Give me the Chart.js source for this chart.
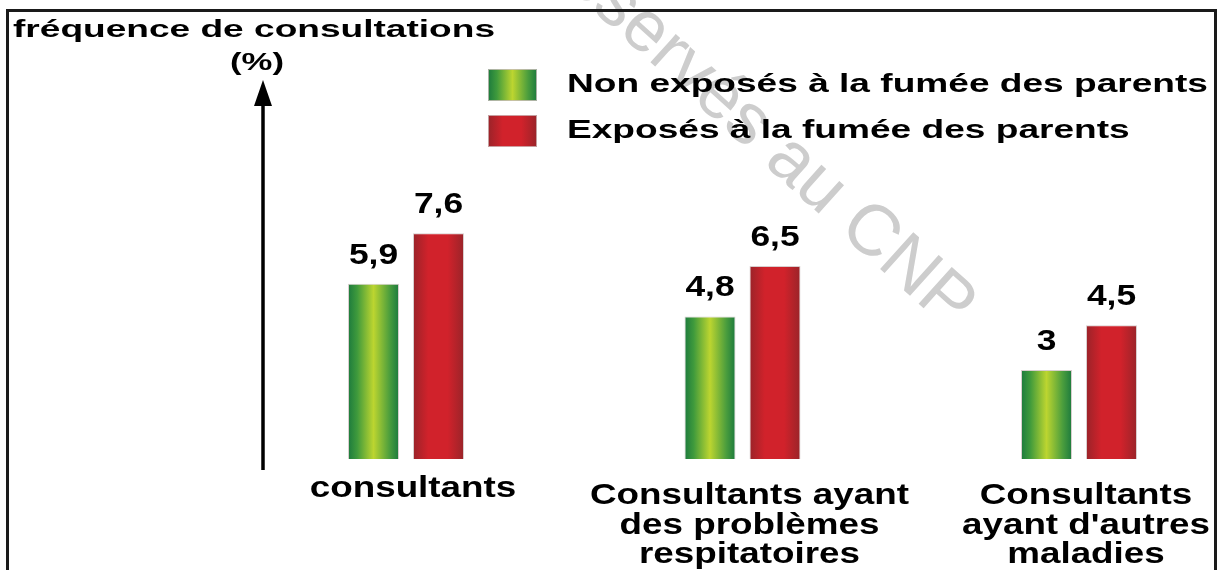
<!DOCTYPE html>
<html lang="fr">
<head>
<meta charset="utf-8">
<title>fréquence de consultations</title>
<script src="https://cdn.jsdelivr.net/npm/chart.js@4/dist/chart.umd.min.js"></script>
<style>
  html, body { margin: 0; padding: 0; background: #ffffff; }
  canvas { display: block; }
</style>
</head>
<body>
<canvas id="chart" width="1219" height="570"></canvas>
<script>
// Catégories (une ligne par élément du libellé)
const categories = [
  ['consultants'],
  ['Consultants ayant', 'des problèmes', 'respitatoires'],
  ['Consultants', "ayant d'autres", 'maladies']
];
const seriesNames = ['Non exposés à la fumée des parents', 'Exposés à la fumée des parents'];
const nonExposes = [5.9, 4.8, 3];
const exposes = [7.6, 6.5, 4.5];
const axisTitle = 'fréquence de consultations';
const axisUnit = '(%)';
const watermark = 'réservés au CNP';

const FONT = "'Liberation Sans', Arial, Helvetica, sans-serif";
const GREEN_STOPS = [[0, '#1c7a3d'], [0.18, '#3f9a3c'], [0.5, '#bcd530'], [0.82, '#4a9d3d'], [1, '#1c7a3d']];
const RED_STOPS = [[0, '#9a2329'], [0.3, '#d1222b'], [0.68, '#d1222b'], [1, '#992429']];

function fmt(v) { return String(v).replace('.', ','); }

function gradient(ctx, x0, x1, stops) {
  const g = ctx.createLinearGradient(x0, 0, x1, 0);
  stops.forEach(([o, c]) => g.addColorStop(o, c));
  return g;
}

function textWidth(ctx, text, font) {
  ctx.save();
  ctx.font = font;
  const w = ctx.measureText(text).width;
  ctx.restore();
  return w;
}

// Texte élargi horizontalement (facteur sx)
function wideText(ctx, text, x, y, font, sx, align) {
  ctx.save();
  ctx.font = font;
  ctx.textBaseline = 'alphabetic';
  ctx.textAlign = 'left';
  const w = ctx.measureText(text).width * sx;
  const left = align === 'center' ? x - w / 2 : (align === 'right' ? x - w : x);
  ctx.translate(left, y);
  ctx.scale(sx, 1);
  ctx.fillStyle = '#000000';
  ctx.fillText(text, 0, 0);
  ctx.restore();
}

const decor = {
  id: 'decor',
  beforeDraw(chart) {
    const ctx = chart.ctx;
    ctx.save();
    ctx.fillStyle = '#ffffff';
    ctx.fillRect(0, 0, chart.width, chart.height);
    // filigrane
    ctx.translate(950, 332);
    ctx.rotate(42 * Math.PI / 180);
    ctx.font = '72px ' + FONT;
    ctx.fillStyle = '#cdcdcd';
    ctx.textAlign = 'right';
    ctx.textBaseline = 'alphabetic';
    ctx.fillText(watermark, 0, 0);
    ctx.restore();
  },
  beforeDatasetsDraw(chart) {
    const ctx = chart.ctx;
    chart.data.datasets.forEach((ds, di) => {
      const stops = di === 0 ? GREEN_STOPS : RED_STOPS;
      chart.getDatasetMeta(di).data.forEach(bar => {
        const { x, width } = bar.getProps(['x', 'width'], true);
        bar.options.backgroundColor = gradient(ctx, x - width / 2, x + width / 2, stops);
      });
    });
  },
  afterDatasetsDraw(chart) {
    const ctx = chart.ctx;
    const valueFont = 'bold 29px ' + FONT;
    chart.data.datasets.forEach((ds, di) => {
      chart.getDatasetMeta(di).data.forEach((bar, i) => {
        const { x, y } = bar.getProps(['x', 'y'], true);
        wideText(ctx, fmt(ds.data[i]), x, y - 20, valueFont, 1.22, 'center');
      });
    });
  },
  afterDraw(chart) {
    const ctx = chart.ctx;
    // cadre
    ctx.save();
    ctx.strokeStyle = '#1a1a1a';
    ctx.lineWidth = 3;
    ctx.beginPath();
    ctx.moveTo(7.5, 575);
    ctx.lineTo(7.5, 10.5);
    ctx.lineTo(1215.5, 10.5);
    ctx.lineTo(1215.5, 575);
    ctx.stroke();

    // axe vertical fléché
    ctx.strokeStyle = '#000000';
    ctx.lineWidth = 3.5;
    ctx.beginPath();
    ctx.moveTo(263, 470);
    ctx.lineTo(263, 100);
    ctx.stroke();
    ctx.fillStyle = '#000000';
    ctx.beginPath();
    ctx.moveTo(263, 80);
    ctx.lineTo(272, 106);
    ctx.lineTo(254, 106);
    ctx.closePath();
    ctx.fill();
    ctx.restore();

    // titre de l'axe
    const titleFont = 'bold 24px ' + FONT;
    const sxTitle = 482 / textWidth(ctx, axisTitle, titleFont);
    wideText(ctx, axisTitle, 13, 37, titleFont, sxTitle, 'left');
    wideText(ctx, axisUnit, 257, 70, titleFont, 54 / textWidth(ctx, axisUnit, titleFont), 'center');

    // légende
    const legFont = 'bold 25px ' + FONT;
    const sxLeg = 641 / textWidth(ctx, seriesNames[0], legFont);
    const boxes = [[69, GREEN_STOPS], [115, RED_STOPS]];
    boxes.forEach(([top, stops], k) => {
      ctx.save();
      ctx.fillStyle = gradient(ctx, 488, 537, stops);
      ctx.fillRect(488, top, 49, 32);
      ctx.strokeStyle = 'rgba(205,190,190,0.8)';
      ctx.lineWidth = 1;
      ctx.strokeRect(488.5, top + 0.5, 48, 31);
      ctx.restore();
      wideText(ctx, seriesNames[k], 567, top + 23, legFont, sxLeg, 'left');
    });

    // libellés des catégories
    const catFont = 'bold 30px ' + FONT;
    const sxCat = 319 / textWidth(ctx, 'Consultants ayant', catFont);
    const xs = chart.scales.x;
    categories.forEach((lines, i) => {
      const cx = xs.getPixelForValue(i) + 7;
      const y0 = lines.length === 1 ? 497 : 504;
      lines.forEach((line, j) => {
        wideText(ctx, line, cx, y0 + j * 29.5, catFont, sxCat, 'center');
      });
    });
  }
};

const barBorder = 'rgba(200,185,185,0.7)';

new Chart(document.getElementById('chart'), {
  type: 'bar',
  data: {
    labels: categories.map(l => l.join(' ')),
    datasets: [
      {
        label: seriesNames[0],
        data: nonExposes,
        backgroundColor: () => '#7fb33a',
        borderColor: barBorder,
        borderWidth: 1,
        clip: false
      },
      {
        label: seriesNames[1],
        data: exposes,
        backgroundColor: () => '#c8222b',
        borderColor: barBorder,
        borderWidth: 1,
        clip: false
      }
    ]
  },
  options: {
    responsive: false,
    animation: false,
    events: [],
    layout: { padding: { left: 406, right: 140, top: 162, bottom: 111 } },
    datasets: {
      bar: { categoryPercentage: 130 / 336.5, barPercentage: 51 / 65 }
    },
    scales: {
      x: { type: 'category', offset: false, display: false, grid: { display: false } },
      y: { min: 0, max: 10, display: false, grid: { display: false } }
    },
    plugins: {
      legend: { display: false },
      tooltip: { enabled: false },
      title: { display: false }
    }
  },
  plugins: [decor]
});
</script>
</body>
</html>
